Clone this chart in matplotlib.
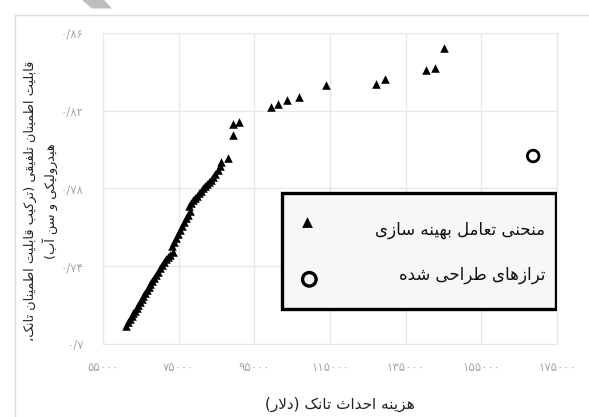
import numpy as np
import matplotlib
matplotlib.use('Agg')
import matplotlib.pyplot as plt
from matplotlib.patches import Rectangle, Polygon

plt.rcParams['font.family'] = ['DejaVu Sans']

# --- data ---
trade_cost = [61050, 61580, 62110, 62630, 62900, 63420, 63950, 64210, 64740, 65270,
              65530, 66050, 66580, 67110, 67370, 67900, 68420, 68950, 69480, 70000,
              70530, 71060, 71580, 72110, 72630, 73420,
              73160, 73690, 74210, 74740, 75270, 75790, 76320, 76850, 77370, 77900,
              77640, 78160, 78690, 79210, 79740, 80270, 80790, 81320, 81850, 82370,
              82900, 83430, 83950, 84480, 85270, 85790, 86060, 88160,
              89480, 89480, 91060, 99480, 101320, 103690, 106850, 113960,
              127120, 129490, 140280, 142650, 145020]
trade_rel = [0.7093, 0.7113, 0.7129, 0.7144, 0.7159, 0.7170, 0.7185, 0.7201, 0.7216, 0.7232,
             0.7247, 0.7262, 0.7278, 0.7293, 0.7309, 0.7324, 0.7340, 0.7355, 0.7370, 0.7391,
             0.7406, 0.7422, 0.7437, 0.7448, 0.7458, 0.7473,
             0.7504, 0.7525, 0.7545, 0.7566, 0.7587, 0.7607, 0.7628, 0.7648, 0.7664, 0.7684,
             0.7710, 0.7725, 0.7741, 0.7751, 0.7761, 0.7777, 0.7787, 0.7803, 0.7813, 0.7823,
             0.7834, 0.7844, 0.7859, 0.7875, 0.7895, 0.7916, 0.7936, 0.7957,
             0.8075, 0.8132, 0.8142, 0.8219, 0.8235, 0.8255, 0.8271, 0.8333,
             0.8338, 0.8363, 0.8410, 0.8420, 0.8523]
design_cost = [168700]
design_rel = [0.7967]

x_ticks = [55000, 75000, 95000, 115000, 135000, 155000, 175000]
y_ticks = [0.70, 0.74, 0.78, 0.82, 0.86]

xlabel = 'هزینه احداث تانک (دلار)'
ylabel = ['قابلیت اطمینان تلفیقی (ترکیب قابلیت اطمینان تانک،', 'هیدرولیکی و سن آب)']
leg_labels = ['منحنی تعامل بهینه سازی', 'ترازهای طراحی شده']

# --- tiny persian shaping (matplotlib does no rtl / joining) ---
FORMS = {
    'ا': ('\uFE8D', '\uFE8E', None, None), 'آ': ('\uFE81', '\uFE82', None, None),
    'ب': ('\uFE8F', '\uFE90', '\uFE91', '\uFE92'), 'ت': ('\uFE95', '\uFE96', '\uFE97', '\uFE98'),
    'ث': ('\uFE99', '\uFE9A', '\uFE9B', '\uFE9C'), 'ح': ('\uFEA1', '\uFEA2', '\uFEA3', '\uFEA4'),
    'د': ('\uFEA9', '\uFEAA', None, None), 'ر': ('\uFEAD', '\uFEAE', None, None),
    'ز': ('\uFEAF', '\uFEB0', None, None), 'و': ('\uFEED', '\uFEEE', None, None),
    'س': ('\uFEB1', '\uFEB2', '\uFEB3', '\uFEB4'), 'ش': ('\uFEB5', '\uFEB6', '\uFEB7', '\uFEB8'),
    'ط': ('\uFEC1', '\uFEC2', '\uFEC3', '\uFEC4'), 'ع': ('\uFEC9', '\uFECA', '\uFECB', '\uFECC'),
    'ف': ('\uFED1', '\uFED2', '\uFED3', '\uFED4'), 'ق': ('\uFED5', '\uFED6', '\uFED7', '\uFED8'),
    'ل': ('\uFEDD', '\uFEDE', '\uFEDF', '\uFEE0'), 'م': ('\uFEE1', '\uFEE2', '\uFEE3', '\uFEE4'),
    'ن': ('\uFEE5', '\uFEE6', '\uFEE7', '\uFEE8'), 'ه': ('\uFEE9', '\uFEEA', '\uFEEB', '\uFEEC'),
    'ک': ('\uFB8E', '\uFB8F', '\uFB90', '\uFB91'), 'ی': ('\uFBFC', '\uFBFD', '\uFBFE', '\uFBFF'),
}
LAMALEF = {'ا': ('\uFEFB', '\uFEFC'), 'آ': ('\uFEF5', '\uFEF6')}
MIRROR = {'(': ')', ')': '('}


def fa(text):
    lines = []
    for line in text.split('\n'):
        out = []
        i = 0
        while i < len(line):
            ch = line[i]
            prev = line[i - 1] if i > 0 else ''
            nxt = line[i + 1] if i + 1 < len(line) else ''
            jp = prev in FORMS and FORMS[prev][2] is not None
            if ch == 'ل' and nxt in LAMALEF:
                out.append(LAMALEF[nxt][1] if jp else LAMALEF[nxt][0])
                i += 2
                continue
            if ch in FORMS:
                iso, fin, ini, med = FORMS[ch]
                jn = nxt in FORMS and ini is not None
                if jp and jn:
                    out.append(med)
                elif jp:
                    out.append(fin)
                elif jn:
                    out.append(ini)
                else:
                    out.append(iso)
            else:
                out.append(MIRROR.get(ch, ch))
            i += 1
        lines.append(''.join(out[::-1]))
    return '\n'.join(lines)


def fa_num(s):
    return s.translate(str.maketrans('0123456789.', '۰۱۲۳۴۵۶۷۸۹/'))


fig = plt.figure(figsize=(5.89, 4.17), dpi=100)
ax = fig.add_axes([0.1749, 0.1751, 0.7708, 0.7458])

# outer chart frame + the grey corner scrap of the page
fig.patches.append(Rectangle((15 / 589, -0.1), 1.2, 1 - 15 / 417 + 0.1, transform=fig.transFigure,
                             fill=False, edgecolor='#dcdcdc', linewidth=1.0))
fig.patches.append(Polygon([(82 / 589, 1), (104 / 589, 1), (112 / 589, 1 - 8.5 / 417), (92 / 589, 1 - 8.5 / 417)],
                           closed=True, transform=fig.transFigure, facecolor='#bdbdbd', edgecolor='none'))

ax.scatter(trade_cost, trade_rel, marker='^', s=38, color='black', zorder=3, linewidths=0)
ax.scatter(design_cost, design_rel, marker='o', s=70, facecolor='none', edgecolor='black',
           linewidths=2.0, zorder=3)

ax.set_xlim(55000, 175000)
ax.set_ylim(0.70, 0.86)
ax.set_xticks(x_ticks)
ax.set_yticks(y_ticks)
ax.set_xticklabels([fa_num(str(v)) for v in x_ticks], color='#a8a8a8', fontsize=8.5)
ax.set_yticklabels([fa_num(f'{v:g}') for v in y_ticks], color='#a8a8a8', fontsize=8.5)
ax.tick_params(axis='y', length=0, pad=14)
ax.tick_params(axis='x', length=0, pad=12)
ax.grid(True, color='#e8e8e8', linewidth=1.0)
ax.set_axisbelow(True)
for sp in ax.spines.values():
    sp.set_color('#e8e8e8')

ax.set_xlabel(fa(xlabel), fontsize=11, color='#222222')
ax.xaxis.set_label_coords(0.522, -0.17)
ax.set_ylabel(fa('\n'.join(ylabel)), fontsize=9.3, color='#222222', linespacing=1.4)
ax.yaxis.set_label_coords(-0.1, 0.46)

# legend drawn by hand, right-to-left like the original
ax.add_patch(Rectangle((0.3935, 0.1116), 0.604, 0.375, transform=ax.transAxes,
                       facecolor='#f7f7f7', edgecolor='black', linewidth=2.4, zorder=4))
ax.scatter([0.4487], [0.3932], marker='^', s=60, color='black', transform=ax.transAxes, zorder=5,
           linewidths=0)
ax.scatter([0.4544], [0.208], marker='o', s=95, facecolor='none', edgecolor='black', linewidths=2.4,
           transform=ax.transAxes, zorder=5)
ax.text(0.9736, 0.3666, fa(leg_labels[0]), transform=ax.transAxes, ha='right', va='center',
        fontsize=12, color='#111111', zorder=5)
ax.text(0.9736, 0.2219, fa(leg_labels[1]), transform=ax.transAxes, ha='right', va='center',
        fontsize=12, color='#111111', zorder=5)

fig.savefig('out.png', dpi=100)
